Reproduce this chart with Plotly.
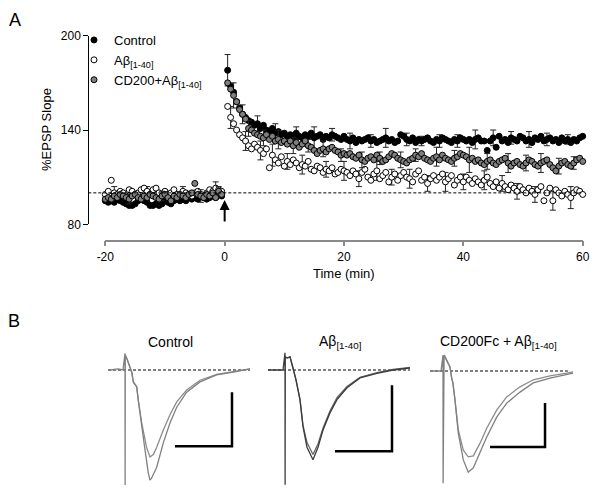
import numpy as np
import plotly.graph_objects as go

# ---------------- Panel A data (%EPSP slope) ----------------
t_base = np.arange(-20, 0, 0.5)          # baseline sampling (min)
t_post = np.arange(0.5, 60.01, 0.5)      # after the arrow (min)

ctrl_base = [95,94,95,94,96,95,94,93,92,92, 93,95,96,95,94,92,92,93,92,93,
             95,94,93,95,96,95,96,95,97,96, 97,96,98,97,96,97,98,97,99,98]
abeta_base = [99,101,108,100,99,101,100,98,102,101, 99,100,102,103,101,99,102,103,100,98,
              101,99,100,102,99,98,101,100,99,98, 100,101,99,97,100,102,101,103,102,101]
cd_base = [96,97,96,98,97,99,98,97,96,98, 99,97,96,98,97,99,98,97,96,98,
           99,97,95,98,97,99,98,97,99,100, 106,99,98,97,99,98,100,97,101,99]

ctrl_post = [178,168,164,158,154,150,148,146,145,143, 144,141,143,140,139,141,138,139,137,138,
             136,137,135,138,136,135,137,136,138,135, 136,137,134,136,135,137,136,135,134,136,
             134,133,135,132,134,133,134,135,133,134, 132,133,134,135,133,134,132,133,137,136,
             134,133,135,132,134,133,134,135,133,132, 134,133,135,134,133,132,134,133,135,134,
             133,134,132,134,135,133,133,127,133,135, 129,136,133,134,132,135,134,133,136,135,
             133,134,132,135,134,136,133,134,135,133, 134,132,135,133,134,132,134,133,135,136]
cd_post = [170,166,162,158,153,150,147,141,140,138, 137,136,135,137,134,136,133,134,132,133,
           131,133,130,132,129,131,133,130,129,127, 125,127,128,126,128,129,127,126,124,125,
           124,125,123,122,124,121,120,122,123,121, 124,122,120,121,123,125,124,122,121,120,
           119,121,122,124,123,125,122,121,120,122, 123,121,124,122,121,120,122,123,125,124,
           123,121,122,120,121,119,118,120,121,119, 118,120,121,122,119,117,119,120,118,117,
           119,121,120,118,117,119,120,121,118,116, 114,117,119,120,118,117,119,121,122,120]
abeta_post = [155,148,144,140,137,135,133,130,128,131, 129,127,125,128,116,124,121,119,123,117,
              120,118,121,119,116,118,117,120,115,114, 117,116,113,115,114,116,112,113,115,114,
              113,111,114,112,109,113,115,110,108,112, 114,109,111,113,107,110,112,108,111,113,
              110,109,107,112,114,108,110,106,109,111, 108,110,112,107,109,111,105,108,110,107,
              110,108,106,109,107,105,108,110,106,104, 107,103,106,104,102,105,103,101,104,102,
              100,103,101,99,102,104,95,100,103,95, 102,100,98,101,99,97,100,102,101,99]

ctrl_err_t = [0.5, 3, 5.5, 8.5, 12, 15, 18, 21, 24.5, 27, 30.5, 33, 36, 39, 42, 45, 48, 51, 54, 57.5]
ctrl_err = [10, 6, 5, 6, 4, 7, 4, 5, 4, 6, 4, 3, 4, 4, 6, 5, 4, 5, 4, 3]
abeta_err_t = [-18.5, -13, -7, -1.5, 1, 3.5, 6, 8, 10.5, 13, 17, 20, 22.5, 25.5, 28, 31, 34, 37,
               40, 43.5, 46.5, 49, 52, 55, 58]
abeta_err = [4, 3, 3, 4, 7, 6, 6, 7, 5, 6, 5, 6, 5, 6, 5, 6, 5, 6, 5, 6, 5, 5, 5, 6, 7]
cd_err_t = [-16, -10.5, -4, -1, 1.5, 4, 6.5, 9, 11.5, 14, 16.5, 19.5, 23, 26, 29.5, 32, 35.5,
            38.5, 41, 44, 47.5, 50.5, 53, 56, 58.5]
cd_err = [3, 3, 4, 3, 8, 5, 5, 6, 5, 4, 5, 4, 5, 4, 5, 4, 6, 5, 8, 5, 6, 5, 6, 5, 4]

series_names = ["Control", "Aβ<sub>[1-40]</sub>", "CD200+Aβ<sub>[1-40]</sub>"]
x_ticks = [-20, 0, 20, 40, 60]
x_ticklabels = ["-20", "0", "20", "40", "60"]
y_ticks = [80, 140, 200]

# ---------------- Panel B data (EPSP traces; ms, mV) ----------------
ctrl_deep_t = [-2.6, -1.2, -0.35, 0, 0.02, 0.05, 0.3, 0.88, 1.18, 1.46, 2.05, 2.33, 2.93, 3.51, 4.09,
               4.39, 4.68, 5.56, 6.72, 7.89, 9.07, 10.82, 13.16, 16.09, 19.0, 21.93]
ctrl_deep_v = [0, 0.02, 0, 0.31, -2.13, 0.28, 0.22, 0.06, -0.04, -0.22, -0.31, -0.56, -1.06, -1.48,
               -1.91, -2.04, -2.0, -1.8, -1.35, -0.98, -0.69, -0.41, -0.22, -0.09, -0.04, 0.02]
ctrl_shal_t = [0.3, 0.88, 1.18, 1.46, 2.05, 2.33, 2.93, 3.8, 4.39, 5.0, 5.56, 6.72, 7.89, 9.07,
               10.82, 13.16, 16.09, 19.0, 21.93]
ctrl_shal_v = [0.22, 0.06, -0.04, -0.22, -0.31, -0.56, -0.98, -1.44, -1.61, -1.56, -1.43, -1.11,
               -0.83, -0.59, -0.37, -0.19, -0.08, -0.03, 0.02]

ab_1_t = [-2.98, -0.35, 0, 0.02, 0.05, 0.35, 0.88, 1.4, 1.93, 2.63, 3.16, 3.86, 4.74, 4.91, 5.79,
          6.67, 7.89, 9.12, 10.88, 13.16, 16.14, 18.95, 21.93]
ab_1_v = [0, 0, 0.26, -1.74, 0.2, 0.18, 0.2, 0.03, -0.15, -0.45, -0.86, -1.17, -1.32, -1.36, -1.17,
          -0.91, -0.65, -0.45, -0.27, -0.12, -0.05, 0.0, 0.03]
ab_2_t = [0.35, 0.88, 1.4, 1.93, 2.63, 3.16, 3.86, 4.74, 4.91, 5.79, 6.67, 7.89, 9.12, 10.88,
          13.16, 16.14, 18.95, 21.93]
ab_2_v = [0.18, 0.2, 0.03, -0.15, -0.45, -0.84, -1.1, -1.26, -1.28, -1.12, -0.88, -0.62, -0.42,
          -0.25, -0.11, -0.04, 0.01, 0.04]

cd_deep_t = [-2.36, -0.36, 0, 0.02, 0.2, 1.27, 1.58, 1.8, 2.18, 2.78, 3.69, 4.6, 5.51, 6.73, 7.95,
             9.76, 11.58, 14.0, 16.42, 19.45, 22.49, 23.64]
cd_deep_v = [0, 0, 0.36, -2.55, 0.36, 0.09, -0.16, -0.27, -0.66, -1.41, -2.02, -2.3, -2.2, -1.86,
             -1.5, -1.05, -0.73, -0.48, -0.27, -0.16, -0.09, -0.05]
cd_shal_t = [0.2, 1.27, 1.58, 1.8, 2.18, 2.78, 3.69, 4.6, 5.51, 6.73, 7.95, 9.76, 11.58, 14.0,
             16.42, 19.45, 22.49, 23.64]
cd_shal_v = [0.36, 0.09, -0.16, -0.27, -0.66, -1.34, -1.8, -1.95, -1.93, -1.64, -1.3, -0.89,
             -0.59, -0.36, -0.2, -0.11, -0.05, -0.02]

panel_titles = ["Control", "Aβ<sub>[1-40]</sub>", "CD200Fc + Aβ<sub>[1-40]</sub>"]
scale_ms, scale_mv = 10, 1

# ---------------- geometry helpers ----------------
# page body has an 8px margin, so the figure is sized to fill the rest of the window
OFF = 8
FW, FH = 600 - OFF, 496 - OFF


def px2x(p):
    return (p - OFF) / FW


def py2y(p):
    return 1 - (p - OFF) / FH


FONT = "Liberation Sans, Arial, sans-serif"
fig = go.Figure()

t_all = np.concatenate([t_base, t_post])
series = [
    (ctrl_base + ctrl_post, ctrl_err_t, ctrl_err, "black"),
    (abeta_base + abeta_post, abeta_err_t, abeta_err, "white"),
    (cd_base + cd_post, cd_err_t, cd_err, "#7f7f7f"),
]
for (vals, et, ev, fill), name in zip(series, series_names):
    lookup = dict(zip([float(t) for t in t_all], vals))
    fig.add_trace(go.Scatter(
        x=et, y=[lookup[float(t)] for t in et], mode="markers",
        marker=dict(size=6, opacity=0),
        error_y=dict(type="data", array=ev, symmetric=True, color="#222",
                     thickness=1, width=3),
        showlegend=False, hoverinfo="skip", cliponaxis=False))
    fig.add_trace(go.Scatter(
        x=t_all, y=vals, mode="markers", name=name, cliponaxis=False,
        marker=dict(size=6, color=fill, line=dict(color="black", width=1))))

fig.update_layout(
    width=FW, height=FH, autosize=False,
    margin=dict(l=0, r=0, t=0, b=0, pad=0, autoexpand=False),
    paper_bgcolor="white", plot_bgcolor="white",
    font=dict(family=FONT, size=12, color="black"),
    xaxis=dict(domain=[px2x(105.3), px2x(582.7)], range=[-20, 60], anchor="free",
               position=py2y(240.7), showgrid=False, zeroline=False,
               showline=True, linecolor="#8a8a8a", linewidth=1.5,
               ticks="outside", ticklen=5, tickcolor="#8a8a8a", tickwidth=1.5,
               tickvals=x_ticks, ticktext=x_ticklabels, tickfont=dict(size=12)),
    yaxis=dict(domain=[py2y(224.3), py2y(35.7)], range=[80, 200], anchor="free",
               position=px2x(88.3), showgrid=False, zeroline=False,
               showline=True, linecolor="black", linewidth=1,
               ticks="outside", ticklen=5, tickcolor="black",
               tickvals=y_ticks, tickfont=dict(size=12)),
    legend=dict(x=px2x(74), y=py2y(25), xanchor="left", yanchor="top",
                bgcolor="rgba(0,0,0,0)", font=dict(size=13), tracegroupgap=0),
)

# baseline dotted line and arrow
fig.add_shape(type="line", xref="paper", yref="y", x0=px2x(88.3), x1=px2x(583),
              y0=100, y1=100, line=dict(color="black", width=1, dash="3px,2px"))
fig.add_annotation(x=0, y=95.4, xref="x", yref="y", ax=0, ay=23, text="",
                   showarrow=True, arrowhead=2, arrowsize=1, arrowwidth=2, arrowcolor="black")


def label(px, py, text, size, angle=0, yanchor="middle"):
    fig.add_annotation(x=px2x(px), y=py2y(py), xref="paper", yref="paper", text=text,
                       xanchor="center", yanchor=yanchor, textangle=angle,
                       showarrow=False, font=dict(size=size))


# axis titles and panel letters
label(344, 273, "Time (min)", 13)
label(46, 130, "%EPSP Slope", 13, -90)
label(15, 8.5, "A", 18, yanchor="top")
label(14, 321, "B", 18)

# ---------------- Panel B ----------------
panels = [
    dict(ax=125, by=370, pms=5.7, pmv=54, l=100, r=258, t=345, b=492, tx=170,
         traces=[(ctrl_shal_t, ctrl_shal_v, "#8c8c8c"), (ctrl_deep_t, ctrl_deep_v, "#808080")],
         base=(-2.98, 21.93), bar=(18.77, -1.41)),
    dict(ax=285, by=370, pms=5.7, pmv=66, l=262, r=420, t=345, b=492, tx=340,
         traces=[(ab_2_t, ab_2_v, "#666666"), (ab_1_t, ab_1_v, "#3c3c3c")],
         base=(-2.98, 21.93), bar=(18.77, -1.23)),
    dict(ax=443, by=371, pms=5.5, pmv=44, l=422, r=592, t=345, b=492, tx=498,
         traces=[(cd_shal_t, cd_shal_v, "#8c8c8c"), (cd_deep_t, cd_deep_v, "#808080")],
         base=(-2.36, 22.7), bar=(18.55, -1.73)),
]
for i, p in enumerate(panels, start=2):
    xa, ya = f"x{i}", f"y{i}"
    fig.update_layout({
        f"xaxis{i}": dict(domain=[px2x(p["l"]), px2x(p["r"])],
                          range=[(p["l"] - p["ax"]) / p["pms"], (p["r"] - p["ax"]) / p["pms"]],
                          visible=False, anchor=ya),
        f"yaxis{i}": dict(domain=[py2y(p["b"]), py2y(p["t"])],
                          range=[(p["by"] - p["b"]) / p["pmv"], (p["by"] - p["t"]) / p["pmv"]],
                          visible=False, anchor=xa),
    })
    fig.add_trace(go.Scatter(x=list(p["base"]), y=[0, 0], mode="lines", xaxis=xa, yaxis=ya,
                             line=dict(color="black", width=1, dash="3px,2px"),
                             showlegend=False, hoverinfo="skip"))
    for tx_, vy_, col in p["traces"]:
        fig.add_trace(go.Scatter(x=tx_, y=vy_, mode="lines", xaxis=xa, yaxis=ya,
                                 line=dict(color=col, width=1.3),
                                 showlegend=False, hoverinfo="skip"))
    bx, bv = p["bar"]
    fig.add_trace(go.Scatter(x=[bx - scale_ms, bx, bx], y=[bv, bv, bv + scale_mv], mode="lines",
                             xaxis=xa, yaxis=ya, line=dict(color="black", width=2.5),
                             showlegend=False, hoverinfo="skip"))

for title, p in zip(panel_titles, panels):
    label(p["tx"], 342, title, 14)

fig.write_html("out.html")
